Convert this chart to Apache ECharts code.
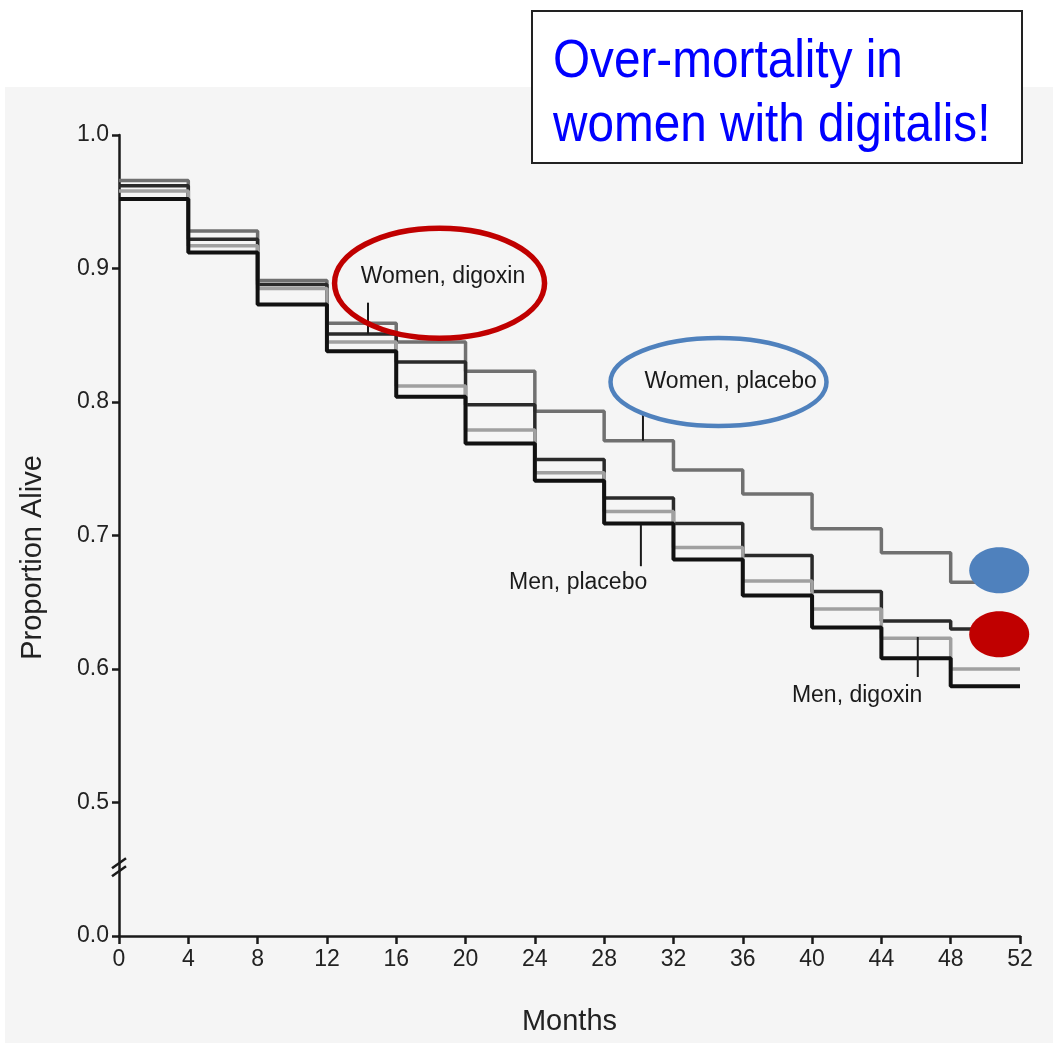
<!DOCTYPE html>
<html>
<head>
<meta charset="utf-8">
<script src="https://cdn.jsdelivr.net/npm/echarts@6/dist/echarts.min.js"></script>
<style>
html,body{margin:0;padding:0;background:#fff;}
#chart{width:1053px;height:1043px;}
</style>
</head>
<body>
<div id="chart"></div>
<script>
// ---- data ----
const months = [0, 4, 8, 12, 16, 20, 24, 28, 32, 36, 40, 44, 48, 52];
const xTickLabels = ['0','4','8','12','16','20','24','28','32','36','40','44','48','52'];
const yTickValues = [0.4, 0.5, 0.6, 0.7, 0.8, 0.9, 1.0];
const yTickLabels = ['0.0','0.5','0.6','0.7','0.8','0.9','1.0'];
// proportion alive at the start of each 4-month interval (last value repeated to month 52)
const womenPlacebo = [0.966, 0.928, 0.891, 0.859, 0.845, 0.823, 0.793, 0.771, 0.749, 0.731, 0.705, 0.687, 0.665, 0.665];
const womenDigoxin = [0.962, 0.922, 0.888, 0.851, 0.830, 0.798, 0.757, 0.728, 0.709, 0.685, 0.658, 0.636, 0.630, 0.630];
const menPlacebo   = [0.958, 0.917, 0.885, 0.845, 0.812, 0.779, 0.747, 0.718, 0.691, 0.666, 0.645, 0.623, 0.600, 0.600];
const menDigoxin   = [0.952, 0.912, 0.873, 0.838, 0.804, 0.769, 0.741, 0.709, 0.682, 0.655, 0.631, 0.608, 0.587, 0.587];
const seriesNames = ['Women, placebo', 'Women, digoxin', 'Men, placebo', 'Men, digoxin'];
const annotationText = ['Over-mortality in', 'women with digitalis!'];

// ---- layout of annotations (data coordinates) ----
const labelPos = [[35.3, 0.815], [18.7, 0.894], [26.5, 0.665], [42.6, 0.580]];
const pointerPos = [
  [[30.24, 0.792], [30.24, 0.771]],
  [[14.37, 0.8744], [14.37, 0.851]],
  [[30.12, 0.708], [30.12, 0.677]],
  [[46.1, 0.624], [46.1, 0.594]]
];

const pair = (vals) => months.map((m, i) => [m, vals[i]]);
const styles = [
  {color: '#707070', width: 3.5},
  {color: '#2a2a2a', width: 3.5},
  {color: '#a0a0a0', width: 3.5},
  {color: '#111111', width: 4}
];
const allData = [womenPlacebo, womenDigoxin, menPlacebo, menDigoxin];

const chart = echarts.init(document.getElementById('chart'), null, {renderer: 'canvas'});
const axisCol = '#1a1a1a';
chart.setOption({
  backgroundColor: '#ffffff',
  animation: false,
  grid: {left: 119, right: 33, top: 135, bottom: 107, containLabel: false},
  xAxis: {
    type: 'value', min: 0, max: 52, interval: 4,
    name: 'Months', nameLocation: 'middle', nameGap: 71,
    nameTextStyle: {fontFamily: 'Liberation Sans', fontSize: 29, color: '#222'},
    axisLine: {show: true, lineStyle: {color: axisCol, width: 2.5}},
    axisTick: {show: true, length: 8, lineStyle: {color: axisCol, width: 2.5}},
    axisLabel: {
      margin: 12, fontFamily: 'Liberation Sans', fontSize: 23, color: '#222',
      formatter: (v) => xTickLabels[months.indexOf(v)] ?? ''
    },
    splitLine: {show: false}
  },
  yAxis: {
    type: 'value', min: 0.4, max: 1.0, interval: 0.1,
    name: 'Proportion Alive', nameLocation: 'middle', nameGap: 72, nameRotate: 90,
    nameTextStyle: {fontFamily: 'Liberation Sans', fontSize: 29, color: '#222', padding: [0, 44, 0, 0]},
    axisLine: {show: true, lineStyle: {color: axisCol, width: 2.5}},
    axisTick: {show: true, length: 7, lineStyle: {color: axisCol, width: 2.5}},
    axisLabel: {
      margin: 10, fontFamily: 'Liberation Sans', fontSize: 23, color: '#222',
      formatter: (v) => {
        const i = yTickValues.findIndex(t => Math.abs(t - v) < 1e-6);
        return i >= 0 ? yTickLabels[i] : '';
      }
    },
    splitLine: {show: false}
  },
  series: allData.map((vals, k) => ({
    name: seriesNames[k],
    type: 'line', step: 'end', showSymbol: false, symbol: 'none',
    data: pair(vals),
    lineStyle: {color: styles[k].color, width: styles[k].width},
    z: 3 + k
  }))
});

function px(p) { return chart.convertToPixel({gridIndex: 0}, p); }

const g = [];
// scanned page background
g.push({type: 'rect', shape: {x: 5, y: 87, width: 1048, height: 956}, style: {fill: '#f5f5f5'}, z: -100, silent: true});
// axis break marks
const brk = px([0, 0.45]);
g.push({type: 'line', shape: {x1: brk[0] - 7, y1: brk[1] - 1, x2: brk[0] + 7, y2: brk[1] - 11}, style: {stroke: axisCol, lineWidth: 2.5}, z: 51});
g.push({type: 'line', shape: {x1: brk[0] - 7, y1: brk[1] + 7, x2: brk[0] + 7, y2: brk[1] - 3}, style: {stroke: axisCol, lineWidth: 2.5}, z: 51});
// series labels and pointers
seriesNames.forEach((nm, k) => {
  const p = px(labelPos[k]);
  g.push({type: 'text', x: p[0], y: p[1], style: {text: nm, fontFamily: 'Liberation Sans', fontSize: 23, fill: '#1a1a1a', align: 'center', verticalAlign: 'middle'}, z: 60});
  const a = px(pointerPos[k][0]), b = px(pointerPos[k][1]);
  g.push({type: 'line', shape: {x1: a[0], y1: a[1], x2: b[0], y2: b[1]}, style: {stroke: '#1a1a1a', lineWidth: 2}, z: 60});
});
// highlight ellipses
const redC = px([18.5, 0.889]);
g.push({type: 'ellipse', shape: {cx: redC[0], cy: redC[1], rx: 105, ry: 55}, style: {fill: null, stroke: '#c00000', lineWidth: 5.5}, z: 70});
const blueC = px([34.6, 0.815]);
g.push({type: 'ellipse', shape: {cx: blueC[0], cy: blueC[1], rx: 108, ry: 44}, style: {fill: null, stroke: '#4f81bd', lineWidth: 4.5}, z: 70});
const dotB = px([50.8, 0.674]);
g.push({type: 'ellipse', shape: {cx: dotB[0], cy: dotB[1], rx: 30, ry: 23}, style: {fill: '#4f81bd'}, z: 70});
const dotR = px([50.8, 0.626]);
g.push({type: 'ellipse', shape: {cx: dotR[0], cy: dotR[1], rx: 30, ry: 23}, style: {fill: '#c00000'}, z: 70});
// annotation box
g.push({type: 'rect', shape: {x: 532, y: 11, width: 490, height: 152}, style: {fill: '#ffffff', stroke: '#222', lineWidth: 2}, z: 80});
g.push({type: 'text', x: 553, y: 36, scaleX: 0.9, style: {text: annotationText[0], fontFamily: 'Liberation Sans', fontSize: 53, fill: '#0000ff', align: 'left', verticalAlign: 'top'}, z: 81});
g.push({type: 'text', x: 553, y: 100, scaleX: 0.9, style: {text: annotationText[1], fontFamily: 'Liberation Sans', fontSize: 53, fill: '#0000ff', align: 'left', verticalAlign: 'top'}, z: 81});

chart.setOption({graphic: {elements: g}});
</script>
</body>
</html>
